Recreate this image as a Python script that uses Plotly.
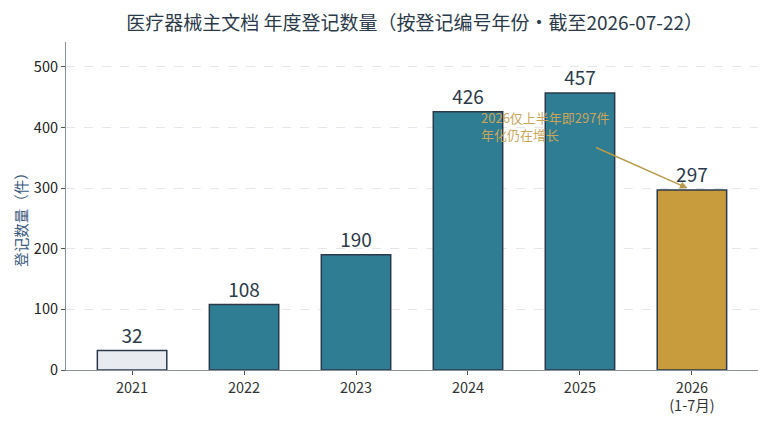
import plotly.graph_objects as go

categories = ["2021", "2022", "2023", "2024", "2025", "2026<br>(1-7月)"]
counts = [32, 108, 190, 426, 457, 297]
bar_colors = ["#E8ECF1", "#2F7D93", "#2F7D93", "#2F7D93", "#2F7D93", "#C89B3C"]
y_ticks = [0, 100, 200, 300, 400, 500]

FONT = "Noto Sans CJK SC, Noto Sans, sans-serif"
DARK = "#2B3A4A"

fig = go.Figure()
fig.add_trace(go.Bar(
    x=list(range(len(categories))),
    y=counts,
    width=0.62,
    marker=dict(color=bar_colors, line=dict(color=DARK, width=1.5)),
    text=[str(v) for v in counts],
    textposition="outside",
    textfont=dict(size=19, color=DARK, family=FONT),
    cliponaxis=False,
))

fig.add_annotation(
    x=3.1, y=403, xref="x", yref="y",
    text="2026仅上半年即297件<br>年化仍在增长",
    showarrow=False, xanchor="left", yanchor="middle", align="left",
    font=dict(size=13, color="#C9A55A", family=FONT),
)
fig.add_annotation(
    x=4.96, y=300, xref="x", yref="y",
    ax=4.13, ay=368, axref="x", ayref="y",
    text="", showarrow=True, arrowhead=2, arrowsize=1, arrowwidth=1.5,
    arrowcolor="#B89A4A",
)
fig.add_annotation(
    x=-0.065, y=0.47, xref="paper", yref="paper",
    text="登记数量（件）", textangle=-90, showarrow=False,
    xanchor="center", yanchor="middle",
    font=dict(size=14.5, color="#3A5A80", family=FONT),
)

fig.update_layout(
    width=760, height=417,
    margin=dict(l=58, r=10, t=34, b=55),
    paper_bgcolor="white", plot_bgcolor="white",
    font=dict(family=FONT, color=DARK),
    showlegend=False,
    title=dict(text="医疗器械主文档 年度登记数量（按登记编号年份·截至2026-07-22）",
               x=0.535, xanchor="center", y=0.962, yanchor="middle",
               font=dict(size=19, color=DARK, family=FONT)),
    xaxis=dict(
        tickmode="array", tickvals=list(range(len(categories))), ticktext=categories,
        range=[-0.59, 5.59], showline=True, linecolor="#8A9099", linewidth=1.2,
        ticks="outside", ticklen=4, tickcolor="#555", showgrid=False,
        tickfont=dict(size=14.5, color="#333"), automargin=False,
    ),
    yaxis=dict(
        range=[0, 541], tickvals=y_ticks, showline=True, linecolor="#8A9099", linewidth=1.2,
        ticks="outside", ticklen=4, tickcolor="#555",
        showgrid=True, gridcolor="#E3E6EA", griddash="dash", gridwidth=1,
        zeroline=False, automargin=False,
        tickfont=dict(size=14.5, color="#222"),
    ),
)

fig.write_html("out.html")
